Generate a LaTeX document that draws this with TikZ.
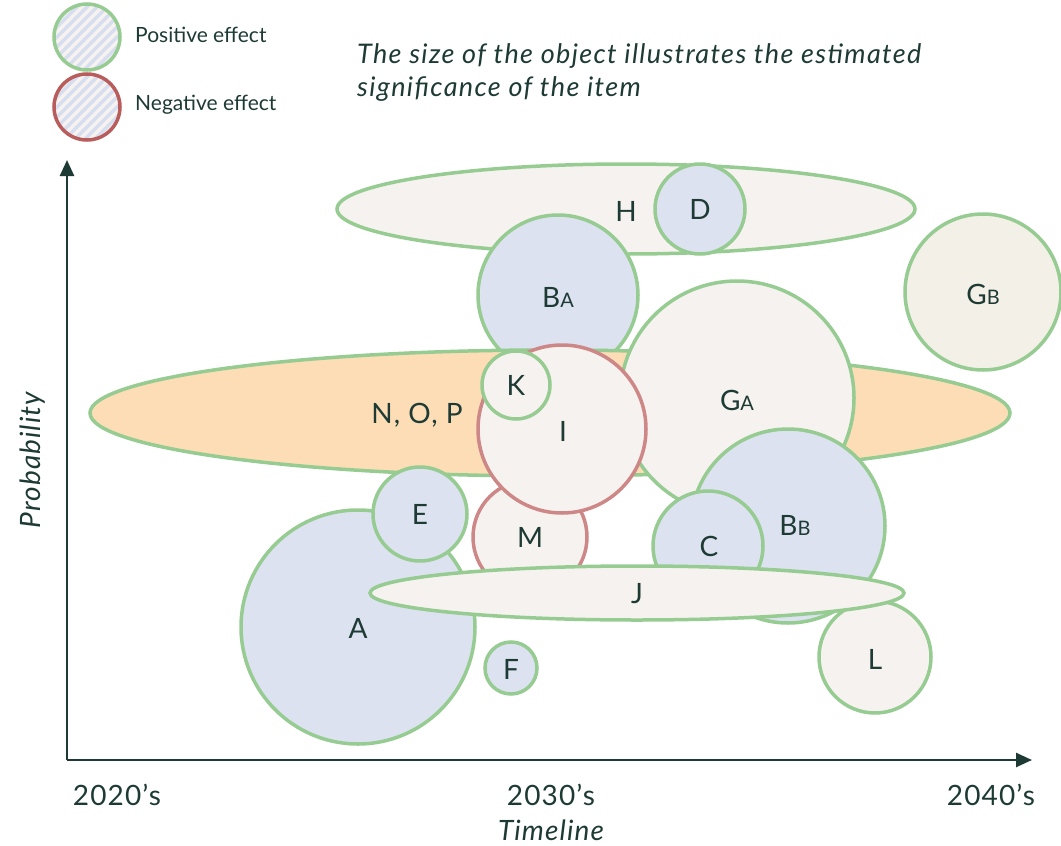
\documentclass[tikz,border=0pt]{standalone}
\usepackage{fontspec}
\setmainfont{Lato}
\newfontfamily\lsfont[LetterSpace=4]{Lato}
\newfontfamily\ttlfont[LetterSpace=5]{Lato}
\usetikzlibrary{arrows.meta}
\definecolor{txt}{RGB}{30,58,52}
\definecolor{gline}{RGB}{150,203,145}
\definecolor{rline}{RGB}{205,135,135}
\definecolor{rleg}{RGB}{184,92,92}
\definecolor{bfill}{RGB}{220,226,240}
\definecolor{cfill}{RGB}{246,242,239}
\definecolor{gbfill}{RGB}{243,240,231}
\definecolor{ofill}{RGB}{252,221,182}
\definecolor{stripe}{RGB}{214,222,240}
\tikzset{
  posline/.style={draw=gline, line width=3.5pt},
  negline/.style={draw=rline, line width=3.5pt},
  bluebox/.style={posline, fill=bfill},
  creambox/.style={posline, fill=cfill},
  lbl/.style={text=txt, font=\lsfont\fontsize{28}{30}\selectfont, inner sep=0pt},
  axline/.style={draw=txt, line width=2.5pt, -{Triangle[length=16pt,width=14pt]}},
  axl/.style={text=txt, font=\lsfont\fontsize{28}{30}\selectfont, inner sep=0pt},
}
\newcommand{\sub}[2]{#1{\fontsize{20}{22}\selectfont #2}}
\begin{document}
\begin{tikzpicture}[x=1pt,y=-1pt]
\useasboundingbox (0,0) rectangle (1061,846);
% legend
\foreach \cy/\col in {37/gline,107/rleg}{
  \begin{scope}
  \clip (87,\cy) circle (33);
  \fill[cfill] (54,\cy-33) rectangle (120,\cy+33);
  \foreach \k in {-10,...,10}{
    \draw[stripe, line width=3.5pt] (87+\k*10-40,\cy+40) -- (87+\k*10+40,\cy-40);
  }
  \end{scope}
  \draw[\col, line width=3.5pt] (87,\cy) circle (33);
}
\node[anchor=west, text=txt, font=\fontsize{21}{23}\selectfont, inner sep=0pt] (legp) at (135,35) {Positive effect};
\node[anchor=west, text=txt, font=\fontsize{21}{23}\selectfont, inner sep=0pt] (legn) at (135,105) {Negative effect};
\node[anchor=west, align=left, text=txt, font=\ttlfont\fontsize{27}{33}\selectfont\itshape, inner sep=0pt] (title) at (357,73) {The size of the object illustrates the estimated\\significance of the item};
% axes
\coordinate (o) at (67,760);
\coordinate (ytip) at (67,160);
\coordinate (xtip) at (1032,760);
\draw[axline] (o) -- (ytip);
\draw[axline] (o) -- (xtip);
\node[axl] (t1) at (117,795) {2020’s};
\node[axl] (t2) at (551,795) {2030’s};
\node[axl] (t3) at (991,795) {2040’s};
\node[axl, font=\lsfont\fontsize{28}{30}\selectfont\itshape] (tl) at (551,830) {Timeline};
\node[axl, font=\lsfont\fontsize{28}{30}\selectfont\itshape, rotate=90] (pr) at (33,460) {Probability};
% shapes
\draw[creambox] (626,209) ellipse [x radius=289, y radius=45];
\node[lbl] (H) at (626,211) {H};
\draw[bluebox] (700,209) circle (45);
\node[lbl] (D) at (700,209) {D};
\draw[bluebox] (558,295) circle (80);
\node[lbl] (BA) at (558,297) {\sub{B}{A}};
\draw[posline, fill=gbfill] (983,292) circle (78);
\node[lbl] (GB) at (983,294) {\sub{G}{B}};
\draw[posline, fill=ofill] (550,413) ellipse [x radius=460, y radius=63];
\node[lbl] (NOP) at (417,415) {N, O, P};
\draw[creambox] (737,398) circle (117);
\node[lbl] (GA) at (737,400) {\sub{G}{A}};
\draw[bluebox] (788,526) circle (97);
\node[lbl] (BB) at (795,525) {\sub{B}{B}};
\draw[bluebox] (708,546) circle (55);
\node[lbl] (C) at (709,546) {C};
\draw[negline, fill=cfill] (530,537) circle (57);
\node[lbl] (M) at (530,537) {M};
\draw[negline, fill=cfill] (562,429) circle (84);
\node[lbl] (I) at (563,431) {I};
\draw[creambox] (516,385) circle (34);
\node[lbl] (K) at (516,385) {K};
\draw[bluebox] (358,627) circle (117);
\node[lbl] (A) at (358,628) {A};
\draw[bluebox] (420,514) circle (47);
\node[lbl] (E) at (420,514) {E};
\draw[creambox] (875,657) circle (56);
\node[lbl] (L) at (875,659) {L};
\draw[creambox] (637,593) ellipse [x radius=267, y radius=27];
\node[lbl] (J) at (637,594) {J};
\draw[bluebox] (511,668) circle (26);
\node[lbl] (F) at (511,669) {F};
\end{tikzpicture}
\end{document}
